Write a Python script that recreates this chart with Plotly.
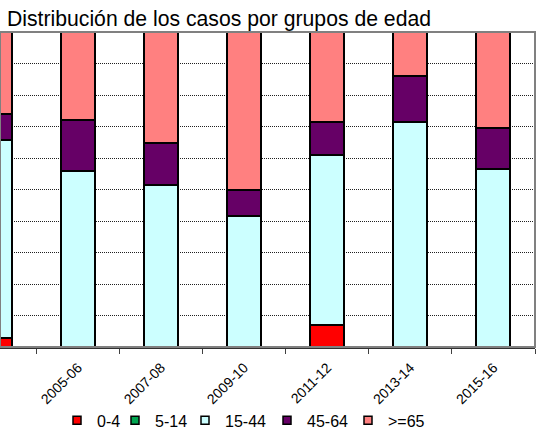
import plotly.graph_objects as go

# categorias (la primera queda cortada a la izquierda en el original)
periodos = ["2003-04", "2005-06", "2007-08", "2009-10", "2011-12", "2013-14", "2015-16"]

# porcentaje de casos por grupo de edad
g_0_4 = [2.9, 0, 0, 0, 7.0, 0, 0]
g_5_14 = [0, 0, 0, 0, 0, 0, 0]
g_15_44 = [62.8, 56.0, 51.4, 41.6, 54.0, 71.5, 56.5]
g_45_64 = [8.3, 16.0, 13.5, 8.4, 10.5, 14.5, 13.0]
g_65 = [26.0, 28.0, 35.1, 50.0, 28.5, 14.0, 30.5]

grupos = ["0-4", "5-14", "15-44", "45-64", ">=65"]
colores = ["#FF0000", "#00A550", "#CCFFFF", "#660066", "#FF8080"]
valores = [g_0_4, g_5_14, g_15_44, g_45_64, g_65]

fig = go.Figure()

for nombre, col, v in zip(grupos, colores, valores):
    fig.add_trace(go.Bar(x=periodos, y=v, name=nombre,
                         marker=dict(color=col, line=dict(color="black", width=2)),
                         showlegend=False))

# una leyenda por grupo para poder ajustar el espaciado de cada entrada
pos_leyenda = [57, 115, 185, 267, 348]
leyendas = {}
for i, (nombre, col) in enumerate(zip(grupos, colores)):
    clave = "legend" if i == 0 else "legend%d" % (i + 1)
    fig.add_trace(go.Scatter(x=[None], y=[None], mode="markers", name=nombre,
                             legend=clave,
                             marker=dict(symbol="square", size=8, color=col,
                                         line=dict(color="black", width=1.5))))
    leyendas[clave] = dict(orientation="h", x=pos_leyenda[i] / 535, xanchor="left",
                           y=-0.233, yanchor="middle", font=dict(size=16),
                           bgcolor="rgba(0,0,0,0)")

fig.update_layout(
    width=536, height=430,
    margin=dict(l=0, r=1, t=32, b=83, autoexpand=False),
    barmode="stack",
    bargap=0.59,
    plot_bgcolor="white",
    paper_bgcolor="white",
    font=dict(family="Liberation Sans, Arial, sans-serif", color="black"),
    title=dict(text="Distribución de los casos por grupos de edad",
               x=0, xanchor="left", y=1 - 19 / 430, yanchor="middle",
               pad=dict(l=7, r=0, t=0, b=0),
               font=dict(size=21.2, color="black")),
    shapes=[dict(type="rect", xref="paper", yref="paper", x0=0, x1=1, y0=0, y1=1,
                 line=dict(color="#808080", width=2), layer="above")],
    **leyendas,
)

fig.update_xaxes(type="category", range=[0.061, 6.5], tickangle=-45, tickson="boundaries",
                 ticks="outside", ticklen=5, tickcolor="#404040", automargin=False,
                 tickfont=dict(size=14), ticklabelstandoff=5,
                 showline=True, linecolor="#303030",
                 linewidth=2, showgrid=False)
fig.update_yaxes(range=[0, 100], dtick=10, showticklabels=False, automargin=False,
                 showgrid=True, gridcolor="#202020", griddash="1px,1px",
                 gridwidth=1, zeroline=False)

# quitar el margen por defecto del body para que la figura empiece en (0, 0)
fig.write_html("out.html", config={"displayModeBar": False},
               post_script="document.body.style.margin='0';")
